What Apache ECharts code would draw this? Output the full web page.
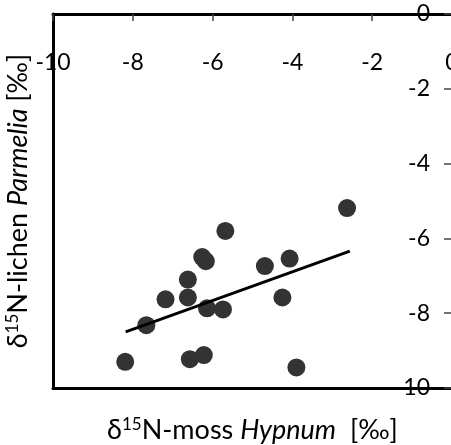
<!DOCTYPE html>
<html>
<head>
<meta charset="utf-8">
<script src="https://cdn.jsdelivr.net/npm/echarts@6/dist/echarts.min.js"></script>
<style>
  html, body { margin: 0; padding: 0; background: #fff; }
  #chart { width: 451px; height: 445px; }
</style>
</head>
<body>
<div id="chart"></div>
<script>
// d15N moss Hypnum (x) vs lichen Parmelia (y), per-mille
const mossX = [-2.63, -5.68, -6.26, -6.17, -4.69, -4.07, -6.62, -7.18, -6.62, -6.14, -5.74, -4.25, -7.66, -8.19, -6.57, -6.22, -3.90]
const lichenY = [-5.19, -5.80, -6.50, -6.61, -6.74, -6.54, -7.10, -7.63, -7.58, -7.87, -7.90, -7.58, -8.32, -9.30, -9.23, -9.12, -9.45]

// regression line end points
const trendX = [-8.18, -2.56]
const trendY = [-8.50, -6.34]

const tickLabels = [-10, -8, -6, -4, -2, 0]

const FONT = 'Lato'
const chart = echarts.init(document.getElementById('chart'))

const rich = {
  n: { fontFamily: FONT, fontSize: 27, color: '#000' },
  i: { fontFamily: FONT, fontSize: 27, color: '#000', fontStyle: 'italic' },
  sup: { fontFamily: FONT, fontSize: 17, color: '#000', padding: [0, 0, 12, 0] }
}

chart.setOption({
  animation: false,
  backgroundColor: '#fff',
  grid: { left: 53, top: 14, width: 399, height: 374, outerBoundsMode: 'none', containLabel: false },
  xAxis: [
    {
      type: 'value',
      position: 'top',
      min: -10,
      max: 0,
      interval: 2,
      axisLine: { onZero: false, lineStyle: { color: '#000', width: 3 } },
      axisTick: { inside: true, length: 7, lineStyle: { color: '#444', width: 1.5 } },
      axisLabel: {
        inside: true,
        margin: 37,
        fontFamily: FONT,
        fontSize: 23,
        color: '#000',
        formatter: v => tickLabels.includes(v) ? String(v) : ''
      },
      splitLine: { show: false }
    },
    {
      type: 'value',
      position: 'bottom',
      min: -10,
      max: 0,
      axisLine: { onZero: false, lineStyle: { color: '#000', width: 3 } },
      axisTick: { show: false },
      axisLabel: { show: false },
      splitLine: { show: false },
      name: '{n|δ}{sup|15}{n|N-moss }{i|Hypnum}{n|  [‰]}',
      nameLocation: 'middle',
      nameGap: 28,
      nameTextStyle: { rich }
    }
  ],
  yAxis: [
    {
      type: 'value',
      position: 'right',
      min: -10,
      max: 0,
      interval: 2,
      axisLine: { onZero: false, lineStyle: { color: '#000', width: 3 } },
      axisTick: { inside: true, length: 8, lineStyle: { color: '#444', width: 1.5 } },
      axisLabel: {
        inside: true,
        margin: 22,
        fontFamily: FONT,
        fontSize: 23,
        color: '#000',
        padding: [12, 0, 0, 0]
      },
      splitLine: { show: false }
    },
    {
      type: 'value',
      position: 'left',
      min: -10,
      max: 0,
      axisLine: { onZero: false, lineStyle: { color: '#000', width: 3 } },
      axisTick: { show: false },
      axisLabel: { show: false },
      splitLine: { show: false },
      name: '{n|δ}{sup|15}{n|N-lichen }{i|Parmelia}{n| [‰]}',
      nameLocation: 'middle',
      nameGap: 20,
      nameTextStyle: { rich }
    }
  ],
  series: [
    {
      type: 'scatter',
      xAxisIndex: 0,
      yAxisIndex: 0,
      symbol: 'circle',
      symbolSize: 18,
      itemStyle: { color: '#333', opacity: 1 },
      data: mossX.map((x, i) => [x, lichenY[i]]),
      z: 2
    },
    {
      type: 'line',
      xAxisIndex: 0,
      yAxisIndex: 0,
      showSymbol: false,
      lineStyle: { color: '#000', width: 3 },
      data: trendX.map((x, i) => [x, trendY[i]]),
      z: 3
    }
  ]
})
</script>
</body>
</html>
